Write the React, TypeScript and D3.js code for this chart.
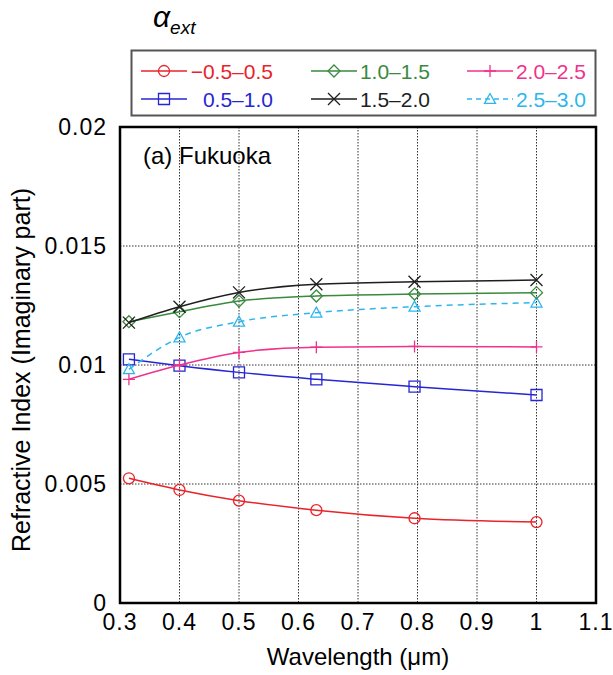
import React from 'react';
import * as d3 from 'd3';

const wavelengths = [0.315, 0.4, 0.5, 0.63, 0.795, 1.0];
const seriesLabels = ['\u22120.5\u20130.5', '0.5\u20131.0', '1.0\u20131.5', '1.5\u20132.0', '2.0\u20132.5', '2.5\u20133.0'];
const redValues = [0.00524, 0.00475, 0.0043, 0.0039, 0.00356, 0.0034];
const blueValues = [0.01024, 0.00997, 0.00969, 0.0094, 0.00909, 0.00874];
const greenValues = [0.01182, 0.01224, 0.01269, 0.0129, 0.01298, 0.01304];
const blackValues = [0.01178, 0.01245, 0.01305, 0.01339, 0.0135, 0.01357];
const pinkValues = [0.0094, 0.01, 0.01053, 0.01075, 0.01078, 0.01076];
const cyanValues = [0.00982, 0.01116, 0.01182, 0.0122, 0.01245, 0.01262];
const xTicks = [0.3, 0.4, 0.5, 0.6, 0.7, 0.8, 0.9, 1.0, 1.1];
const yTicks = [0, 0.005, 0.01, 0.015, 0.02];

type Marker = 'circle' | 'square' | 'diamond' | 'cross' | 'plus' | 'triangle';
interface Series { label: string; values: number[]; color: string; marker: Marker; dashed: boolean; }

const series: Series[] = [
  { label: seriesLabels[0], values: redValues, color: '#e8232a', marker: 'circle', dashed: false },
  { label: seriesLabels[1], values: blueValues, color: '#2626d4', marker: 'square', dashed: false },
  { label: seriesLabels[4], values: pinkValues, color: '#f0328c', marker: 'plus', dashed: false },
  { label: seriesLabels[5], values: cyanValues, color: '#2db6ee', marker: 'triangle', dashed: true },
  { label: seriesLabels[2], values: greenValues, color: '#3a8a3e', marker: 'diamond', dashed: false },
  { label: seriesLabels[3], values: blackValues, color: '#1e1e1e', marker: 'cross', dashed: false },
];

const legendLayout = [
  { idx: 0, col: 0, row: 0 },
  { idx: 2, col: 1, row: 0 },
  { idx: 4, col: 2, row: 0 },
  { idx: 1, col: 0, row: 1 },
  { idx: 3, col: 1, row: 1 },
  { idx: 5, col: 2, row: 1 },
];

const W = 613, H = 675;
const plot = { left: 120, right: 596, top: 127, bottom: 603 };

function markerPath(m: Marker, x: number, y: number): string {
  switch (m) {
    case 'circle': {
      const r = 5.5;
      return `M${x - r},${y}a${r},${r} 0 1,0 ${2 * r},0a${r},${r} 0 1,0 ${-2 * r},0`;
    }
    case 'square': {
      const s = 5.5;
      return `M${x - s},${y - s}h${2 * s}v${2 * s}h${-2 * s}Z`;
    }
    case 'diamond': {
      const s = 6;
      return `M${x},${y - s}L${x + s},${y}L${x},${y + s}L${x - s},${y}Z`;
    }
    case 'cross': {
      const s = 6;
      return `M${x - s},${y - s}L${x + s},${y + s}M${x - s},${y + s}L${x + s},${y - s}`;
    }
    case 'plus': {
      const s = 6;
      return `M${x},${y - s}V${y + s}M${x - s},${y}H${x + s}`;
    }
    case 'triangle': {
      const s = 5.5;
      return `M${x},${y - s}L${x + s},${y + s * 0.8}L${x - s},${y + s * 0.8}Z`;
    }
  }
}

const font = "'Liberation Sans', Arial, sans-serif";

export default function App() {
  const x = d3.scaleLinear().domain([0.3, 1.1]).range([plot.left, plot.right]);
  const y = d3.scaleLinear().domain([0, 0.02]).range([plot.bottom, plot.top]);
  const line = d3.line<number>()
    .x((_, i) => x(wavelengths[i]))
    .y((d) => y(d))
    .curve(d3.curveMonotoneX);

  const colLineX = [141, 311, 467];
  const colTextEnd = [273, 430, 586];
  const rowY = [71, 99];
  const fs = { fontFamily: font };
  const tickStyle = { fontFamily: font, letterSpacing: '1px' };

  return (
    <div style={{ position: 'absolute', left: 0, top: 0, width: W, height: H, background: '#fff' }}>
      <svg width={W} height={H} style={{ display: 'block' }}>
        <rect x={0} y={0} width={W} height={H} fill="#fff" />
        <text x={153} y={27} style={fs} fontStyle="italic" fontSize={30} fill="#000">
          α<tspan dy={7} fontSize={19}>ext</tspan>
        </text>
        <rect x={131.5} y={50.5} width={464} height={65} fill="#fff" stroke="#555" strokeWidth={2} />
        {legendLayout.map(({ idx, col, row }) => {
          const s = series.find((q) => q.label === seriesLabels[idx]) as Series;
          const lx0 = colLineX[col];
          const lx1 = lx0 + 46;
          const ly = rowY[row];
          return (
            <g key={idx}>
              <line x1={lx0} x2={lx1} y1={ly} y2={ly} stroke={s.color} strokeWidth={1.5}
                strokeDasharray={s.dashed ? '5,4' : undefined} />
              <path d={markerPath(s.marker, (lx0 + lx1) / 2, ly)} fill="none" stroke={s.color} strokeWidth={1.3} />
              <text x={colTextEnd[col]} y={ly + 7.5} textAnchor="end" style={fs}
                fontSize={21} fill={s.color}>{s.label}</text>
            </g>
          );
        })}
        {xTicks.filter((t) => t > 0.3 && t < 1.1).map((t) => (
          <line key={'gx' + t} x1={x(t)} x2={x(t)} y1={plot.top} y2={plot.bottom}
            stroke="#333" strokeWidth={1} strokeDasharray="1.5,1.5" />
        ))}
        {yTicks.filter((t) => t > 0 && t < 0.02).map((t) => (
          <line key={'gy' + t} x1={plot.left} x2={plot.right} y1={y(t)} y2={y(t)}
            stroke="#333" strokeWidth={1} strokeDasharray="1.5,1.5" />
        ))}
        {series.map((s) => (
          <g key={s.label}>
            <path d={line(s.values) || ''} fill="none" stroke={s.color} strokeWidth={1.5}
              strokeDasharray={s.dashed ? '6,5' : undefined} />
            {s.values.map((v, i) => (
              <path key={i} d={markerPath(s.marker, x(wavelengths[i]), y(v))} fill="none"
                stroke={s.color} strokeWidth={1.3} />
            ))}
          </g>
        ))}
        <rect x={plot.left} y={plot.top} width={plot.right - plot.left} height={plot.bottom - plot.top}
          fill="none" stroke="#000" strokeWidth={2.5} />
        <text x={143} y={164} style={fs} fontSize={24} fill="#000">(a) Fukuoka</text>
        {yTicks.map((t) => (
          <text key={'yt' + t} x={107} y={y(t)} dy="0.35em" textAnchor="end" style={tickStyle}
            fontSize={23} fill="#000">{String(+t.toFixed(3))}</text>
        ))}
        {xTicks.map((t) => (
          <text key={'xt' + t} x={x(t)} y={630} textAnchor="middle" style={tickStyle}
            fontSize={23} fill="#000">{String(+t.toFixed(1))}</text>
        ))}
        <text x={(plot.left + plot.right) / 2} y={665} textAnchor="middle" style={fs} fontSize={24}
          fill="#000">Wavelength (μm)</text>
        <text transform={`translate(30,370) rotate(-90)`} textAnchor="middle"
          style={fs} fontSize={25} fill="#000">Refractive Index (Imaginary part)</text>
      </svg>
    </div>
  );
}
